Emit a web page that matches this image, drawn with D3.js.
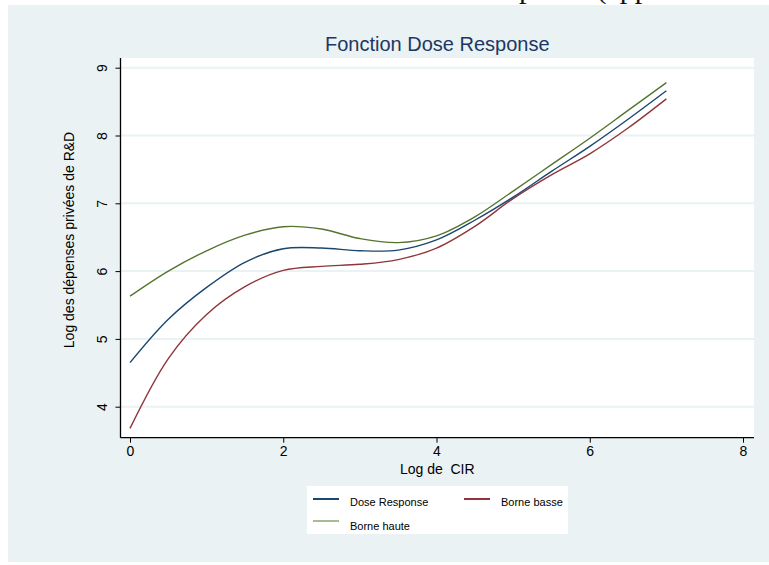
<!DOCTYPE html>
<html>
<head>
<meta charset="utf-8">
<script src="https://cdn.jsdelivr.net/npm/d3@7/dist/d3.min.js"></script>
<style>
  html, body { margin: 0; padding: 0; background: #ffffff; }
  svg { display: block; }
  text { font-family: "Liberation Sans", Arial, sans-serif; white-space: pre; }
</style>
</head>
<body>
<svg id="chart" width="769" height="565"></svg>
<script>
// ---- data ----
const xValues      = [0, 0.5, 1, 1.5, 2, 2.5, 3, 3.5, 4, 4.5, 5, 5.5, 6, 6.5, 7];
const doseResponse = [4.65, 5.29, 5.76, 6.13, 6.33, 6.34, 6.30, 6.31, 6.46, 6.75, 7.09, 7.47, 7.84, 8.24, 8.66];
const borneBasse   = [3.68, 4.71, 5.36, 5.77, 6.01, 6.07, 6.10, 6.17, 6.34, 6.66, 7.07, 7.42, 7.73, 8.11, 8.54];
const borneHaute   = [5.63, 6.00, 6.30, 6.53, 6.655, 6.62, 6.48, 6.42, 6.52, 6.80, 7.18, 7.57, 7.96, 8.37, 8.78];
const xTicks = [0, 2, 4, 6, 8];
const yTicks = [4, 5, 6, 7, 8, 9];
const seriesNames = ["Dose Response", "Borne basse", "Borne haute"];
const titleText = "Fonction Dose Response";
const xTitle = "Log de  CIR";
const yTitle = "Log des dépenses privées de R&D";

const colors = { "Dose Response": "#1a476f", "Borne basse": "#90353b", "Borne haute": "#55752f" };
const seriesData = {
  "Dose Response": doseResponse,
  "Borne basse": borneBasse,
  "Borne haute": borneHaute
};

const svg = d3.select("#chart");

// page text cut off at top
svg.append("text")
  .attr("x", 519).attr("y", -2)
  .style("font-family", "'Liberation Serif', serif")
  .style("font-size", "30px")
  .attr("fill", "#111")
  .text("ponse (approche");

// graph region background
svg.append("rect")
  .attr("x", 8).attr("y", 5).attr("width", 761).attr("height", 557)
  .attr("fill", "#eaf2f3");

const plotLeft = 120.5, plotRight = 754, plotTop = 58, plotBottom = 437.7;

const x = d3.scaleLinear().domain([0, 8]).range([130, 743]);
const y = d3.scaleLinear().domain([4, 9]).range([406.7, 67.7]);

// plot region
svg.append("rect")
  .attr("x", plotLeft).attr("y", plotTop)
  .attr("width", plotRight - plotLeft).attr("height", plotBottom - plotTop)
  .attr("fill", "#ffffff");

// gridlines
svg.append("g").selectAll("line").data(yTicks).join("line")
  .attr("x1", plotLeft).attr("x2", plotRight)
  .attr("y1", d => y(d)).attr("y2", d => y(d))
  .attr("stroke", "#eaf2f3").attr("stroke-width", 2);

// title
svg.append("text")
  .attr("x", (plotLeft + plotRight) / 2).attr("y", 51)
  .attr("text-anchor", "middle")
  .style("font-size", "20px")
  .attr("fill", "#1c3764")
  .text(titleText);

// axes
const xAxis = svg.append("g")
  .attr("transform", `translate(0,${plotBottom})`)
  .call(d3.axisBottom(x).tickValues(xTicks).tickSize(5).tickPadding(3).tickFormat(d3.format("d")));
xAxis.select(".domain").attr("d", `M${plotLeft},0H${plotRight}`).attr("stroke", "#000").attr("stroke-width", 1.3);
xAxis.selectAll(".tick line").attr("stroke", "#000").attr("stroke-width", 1);
xAxis.selectAll(".tick text").style("font-size", "14px").style("font-family", "'Liberation Sans', Arial, sans-serif").attr("fill", "#000");

const yAxis = svg.append("g")
  .attr("transform", `translate(${plotLeft},0)`)
  .call(d3.axisLeft(y).tickValues(yTicks).tickSize(5).tickFormat(d3.format("d")));
yAxis.select(".domain").attr("d", `M0,${plotTop}V${plotBottom}`).attr("stroke", "#000").attr("stroke-width", 1.3);
yAxis.selectAll(".tick line").attr("stroke", "#000").attr("stroke-width", 1);
yAxis.selectAll(".tick text")
  .attr("x", null).attr("dy", null)
  .attr("transform", "translate(-19,0) rotate(-90)")
  .attr("text-anchor", "middle")
  .attr("dominant-baseline", "central")
  .style("font-size", "14px")
  .style("font-family", "'Liberation Sans', Arial, sans-serif")
  .attr("fill", "#000");

// axis titles
svg.append("text")
  .attr("x", (plotLeft + plotRight) / 2).attr("y", 474)
  .attr("text-anchor", "middle")
  .attr("xml:space", "preserve")
  .style("font-size", "14px")
  .attr("fill", "#000")
  .text(xTitle);

svg.append("text")
  .attr("transform", "translate(74,240) rotate(-90)")
  .attr("text-anchor", "middle")
  .style("font-size", "14px")
  .attr("fill", "#000")
  .text(yTitle);

// lines
const line = d3.line()
  .x((d, i) => x(xValues[i]))
  .y(d => y(d))
  .curve(d3.curveCatmullRom.alpha(0.5));

const drawOrder = ["Borne haute", "Borne basse", "Dose Response"];
svg.append("g").selectAll("path").data(drawOrder).join("path")
  .attr("d", k => line(seriesData[k]))
  .attr("fill", "none")
  .attr("stroke", k => colors[k])
  .attr("stroke-width", 1.4);

// legend
const legend = svg.append("g");
legend.append("rect")
  .attr("x", 307).attr("y", 486).attr("width", 261).attr("height", 48)
  .attr("fill", "#ffffff");
const legendItems = [
  { name: seriesNames[0], lx: 313, ly: 499, w: 2 },
  { name: seriesNames[1], lx: 464, ly: 499, w: 2 },
  { name: seriesNames[2], lx: 313, ly: 521, w: 1 }
];
legend.selectAll("line").data(legendItems).join("line")
  .attr("x1", d => d.lx).attr("x2", d => d.lx + 26)
  .attr("y1", d => d.ly).attr("y2", d => d.ly)
  .attr("stroke", d => colors[d.name])
  .attr("stroke-width", d => d.w);
legend.selectAll("text").data(legendItems).join("text")
  .attr("x", d => d.lx + 37)
  .attr("y", d => d.ly + (d.w === 1 ? 8.5 : 6.5))
  .style("font-size", "11px")
  .attr("fill", "#000")
  .text(d => d.name);
</script>
</body>
</html>
